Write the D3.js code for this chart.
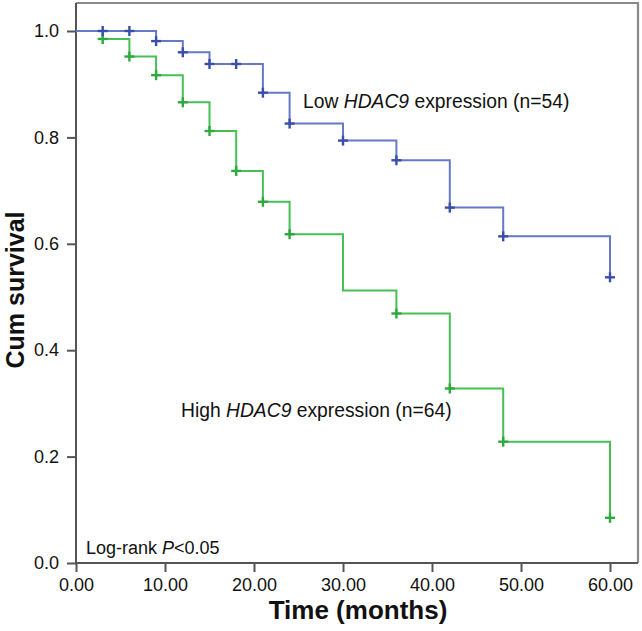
<!DOCTYPE html>
<html><head><meta charset="utf-8">
<script src="https://cdn.jsdelivr.net/npm/d3@7"></script>
<style>
html,body{margin:0;padding:0;background:#fff;}
svg{display:block;font-family:"Liberation Sans",Arial,sans-serif;}
</style></head>
<body><svg id="c" width="642" height="631"></svg>
<script>
// Data
const xTicks = [0, 10, 20, 30, 40, 50, 60];
const yTicks = [0, 0.2, 0.4, 0.6, 0.8, 1.0];
const lowTimes = [0, 9, 12, 15, 21, 24, 30, 36, 42, 48, 60];
const lowSurv  = [1, 0.981, 0.960, 0.938, 0.884, 0.826, 0.794, 0.757, 0.668, 0.614, 0.537];
const lowCensor = [3, 6, 9, 12, 15, 18, 21, 24, 30, 36, 42, 48, 60];
const highTimes = [0, 3, 6, 9, 12, 15, 18, 21, 24, 30, 36, 42, 48, 60];
const highSurv  = [1, 0.985, 0.952, 0.917, 0.866, 0.812, 0.737, 0.679, 0.618, 0.512, 0.469, 0.328, 0.228, 0.085];
const highCensor = [3, 6, 9, 12, 15, 18, 21, 24, 36, 42, 48, 60];

const svg = d3.select("#c");
const L = 76, R = 638, T = 3, B = 563;
const x = d3.scaleLinear().domain([0, 60]).range([76, 610]);
const y = d3.scaleLinear().domain([0, 1]).range([563, 31]);

// frame (top/right)
svg.append("path").attr("d", `M${L},${T}H${R}V${B}`)
  .attr("fill", "none").attr("stroke", "#8a8a8a").attr("stroke-width", 2.2);

// axes
const xa = svg.append("g").attr("transform", `translate(0,${B})`)
  .call(d3.axisBottom(x).tickValues(xTicks).tickFormat(d3.format(".2f")).tickSize(9).tickPadding(6).tickSizeOuter(0));
xa.select(".domain").remove();
xa.selectAll("line").attr("stroke", "#555").attr("stroke-width", 2);
xa.selectAll("text").attr("font-size", 18).attr("fill", "#111").attr("font-family", "Liberation Sans, Arial, sans-serif");
svg.append("line").attr("x1", L).attr("x2", R).attr("y1", B).attr("y2", B).attr("stroke", "#555").attr("stroke-width", 2);

const ya = svg.append("g").attr("transform", `translate(${L},0)`)
  .call(d3.axisLeft(y).tickValues(yTicks).tickFormat(d3.format(".1f")).tickSize(9).tickPadding(8).tickSizeOuter(0));
ya.select(".domain").remove();
ya.selectAll("line").attr("stroke", "#555").attr("stroke-width", 2);
ya.selectAll("text").attr("font-size", 18).attr("fill", "#111").attr("font-family", "Liberation Sans, Arial, sans-serif");
svg.append("line").attr("x1", L).attr("x2", L).attr("y1", T).attr("y2", B).attr("stroke", "#555").attr("stroke-width", 2);

function stepVal(times, surv, t) {
  const i = d3.bisectRight(times, t) - 1;
  return surv[Math.max(0, i)];
}

const line = d3.line().x(d => x(d[0])).y(d => y(d[1])).curve(d3.curveStepAfter);
function drawCurve(times, surv, censor, lineColor, markColor) {
  const pts = times.map((t, i) => [t, surv[i]]);
  svg.append("path").datum(pts).attr("d", line)
    .attr("fill", "none").attr("stroke", lineColor).attr("stroke-width", 2);
  const g = svg.append("g");
  censor.forEach(t => {
    const cx = x(t), cy = y(stepVal(times, surv, t));
    g.append("line").attr("x1", cx - 5).attr("x2", cx + 5).attr("y1", cy).attr("y2", cy)
      .attr("stroke", markColor).attr("stroke-width", 2.4);
    g.append("line").attr("x1", cx).attr("x2", cx).attr("y1", cy - 5).attr("y2", cy + 5)
      .attr("stroke", markColor).attr("stroke-width", 2.4);
  });
}
drawCurve(highTimes, highSurv, highCensor, "#47bf55", "#2fa93f");
drawCurve(lowTimes, lowSurv, lowCensor, "#6679c6", "#3a4ea8");

// annotations
const t1 = svg.append("text").attr("x", 303).attr("y", 108).attr("font-size", 19.3).attr("fill", "#111");
t1.append("tspan").text("Low ");
t1.append("tspan").attr("font-style", "italic").text("HDAC9");
t1.append("tspan").text(" expression (n=54)");

const t2 = svg.append("text").attr("x", 181).attr("y", 417).attr("font-size", 19.3).attr("fill", "#111");
t2.append("tspan").text("High ");
t2.append("tspan").attr("font-style", "italic").text("HDAC9");
t2.append("tspan").text(" expression (n=64)");

const t3 = svg.append("text").attr("x", 86).attr("y", 554).attr("font-size", 18).attr("fill", "#111");
t3.append("tspan").text("Log-rank ");
t3.append("tspan").attr("font-style", "italic").text("P");
t3.append("tspan").text("<0.05");

// axis titles
svg.append("text").attr("x", 358).attr("y", 619).attr("text-anchor", "middle")
  .attr("font-size", 26).attr("font-weight", "bold").attr("fill", "#111").text("Time (months)");
svg.append("text").attr("transform", "translate(24,290) rotate(-90)").attr("text-anchor", "middle")
  .attr("font-size", 25).attr("font-weight", "bold").attr("fill", "#111").text("Cum survival");
</script></body></html>
